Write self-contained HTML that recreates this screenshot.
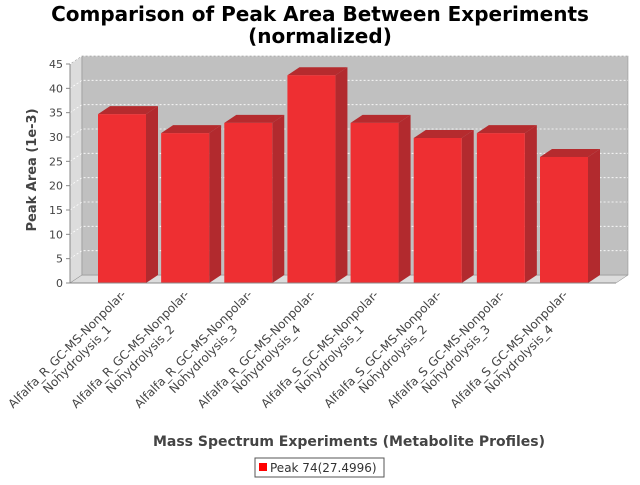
<!DOCTYPE html>
<html><head><meta charset="utf-8"><style>
body{margin:0;background:#fff}
svg text{font-family:"DejaVu Sans","Liberation Sans",sans-serif}
</style></head><body>
<svg id="chart" width="640" height="480" viewBox="0 0 640 480" xmlns="http://www.w3.org/2000/svg">
<text x="320" y="21" text-anchor="middle" font-size="20" font-weight="bold">Comparison of Peak Area Between Experiments</text>
<text x="320" y="43" text-anchor="middle" font-size="20" font-weight="bold">(normalized)</text>
<polygon points="70,283 82,275 82,56 70,64" fill="#dcdcdc" stroke="#888" stroke-width="0.5"/>
<polygon points="70,283 82,275 628,275 616,283" fill="#dcdcdc" stroke="#888" stroke-width="0.5"/>
<rect x="82" y="56" width="546" height="219" fill="#c0c0c0" stroke="#888" stroke-width="0.5"/>
<g id="grid"></g>
<g id="bars"></g>
<line x1="70" y1="64" x2="70" y2="283" stroke="#888"/>
<line x1="70" y1="283" x2="616" y2="283" stroke="#888"/>
<g id="yticks"></g>
<g id="xlabels"></g>
<text transform="translate(36,170) rotate(-90)" text-anchor="middle" font-size="13" font-weight="bold" fill="#444">Peak Area (1e-3)</text>
<text x="349" y="446" text-anchor="middle" font-size="14" font-weight="bold" fill="#444">Mass Spectrum Experiments (Metabolite Profiles)</text>
<g>
<rect x="255" y="458" width="129" height="19" fill="#fff" stroke="#555"/>
<rect x="259" y="463" width="8" height="8" fill="#ff0000"/>
<text x="270" y="472" font-size="12" fill="#333">Peak 74(27.4996)</text>
</g>
</svg>
<script>
const categories1 = ["Alfalfa_R_GC-MS-Nonpolar-","Alfalfa_R_GC-MS-Nonpolar-","Alfalfa_R_GC-MS-Nonpolar-","Alfalfa_R_GC-MS-Nonpolar-","Alfalfa_S_GC-MS-Nonpolar-","Alfalfa_S_GC-MS-Nonpolar-","Alfalfa_S_GC-MS-Nonpolar-","Alfalfa_S_GC-MS-Nonpolar-"];
const categories2 = ["Nohydrolysis_1","Nohydrolysis_2","Nohydrolysis_3","Nohydrolysis_4","Nohydrolysis_1","Nohydrolysis_2","Nohydrolysis_3","Nohydrolysis_4"];
const values = [34.7, 30.8, 32.9, 42.7, 32.9, 29.8, 30.8, 25.9];
const yTicks = [0,5,10,15,20,25,30,35,40,45];
const NS="http://www.w3.org/2000/svg";
const x0=70,x1=616,yBase=283,yTop=64,yMax=45,dx=12,dy=8;
const y=v=>yBase-(v/yMax)*(yBase-yTop);
const n=values.length,marg=28,bw=48;
const step=(x1-x0-2*marg-bw)/(n-1);
const xb=i=>x0+marg+i*step;
function mk(tag,attrs,parent){const e=document.createElementNS(NS,tag);for(const k in attrs)e.setAttribute(k,attrs[k]);parent.appendChild(e);return e;}
const grid=document.getElementById('grid'),yt=document.getElementById('yticks');
yTicks.forEach(t=>{
  const yy=y(t);
  if(t>0){
    const g=mk('polyline',{points:`${x0},${yy} ${x0+dx},${yy-dy} ${x1+dx},${yy-dy}`,fill:'none',stroke:'#fff','stroke-width':0.8,'stroke-dasharray':'2,2'},grid);
    
    
  }
  const tk=mk('line',{x1:x0-4,y1:yy,x2:x0,y2:yy,stroke:'#888'},yt);
  
  
  const tx=mk('text',{x:x0-7,y:yy+4,'text-anchor':'end','font-size':11,fill:'#444'},yt);
  tx.textContent=t;
  
  
});
const bars=document.getElementById('bars'),xl=document.getElementById('xlabels');
values.forEach((v,i)=>{
  const bx=xb(i),top=y(v);
  const g=mk('g',{},bars);
  
  
  mk('polygon',{points:`${bx+bw},${yBase} ${bx+bw+dx},${yBase-dy} ${bx+bw+dx},${top-dy} ${bx+bw},${top}`,fill:'#b22a2e'},g);
  mk('polygon',{points:`${bx},${top} ${bx+dx},${top-dy} ${bx+bw+dx},${top-dy} ${bx+bw},${top}`,fill:'#b52b2e'},g);
  mk('rect',{x:bx,y:top,width:bw,height:yBase-top,fill:'#ee2f32'},g);
  const cx=bx+bw/2;
  const l1=mk('text',{transform:`translate(${cx-52},${352}) rotate(-45)`,'text-anchor':'middle','font-size':12,fill:'#444'},xl);
  l1.textContent=categories1[i];
  
  
  const l2=mk('text',{transform:`translate(${cx-42},${362}) rotate(-45)`,'text-anchor':'middle','font-size':12,fill:'#444'},xl);
  l2.textContent=categories2[i];
  
  
});
</script>
</body></html>
